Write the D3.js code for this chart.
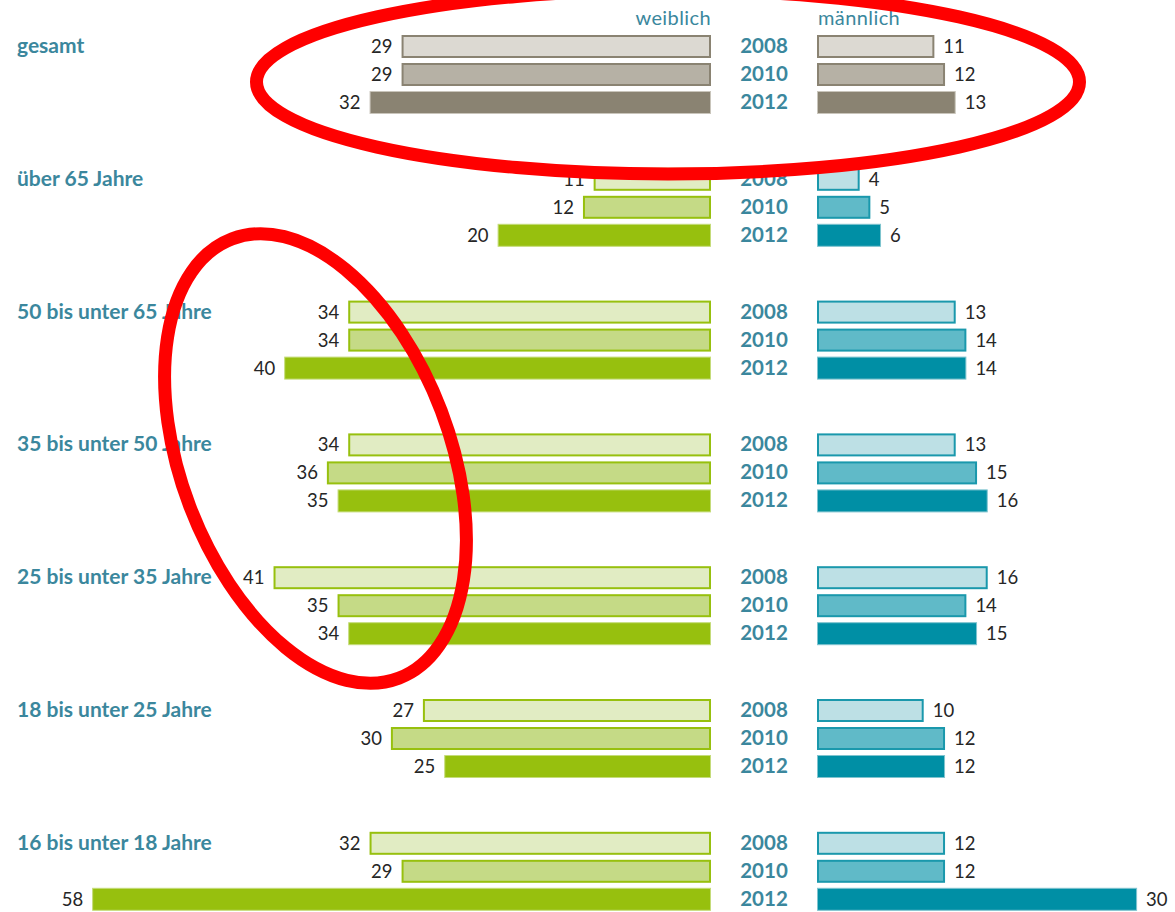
<!DOCTYPE html>
<html>
<head>
<meta charset="utf-8">
<script src="https://cdn.jsdelivr.net/npm/d3@7"></script>
<style>
  html, body { margin: 0; padding: 0; background: #fff; }
  svg { display: block; font-family: Lato, "Open Sans", sans-serif; }
</style>
</head>
<body>
<div id="chart"></div>
<script>
// Altersgruppen (von oben nach unten)
const categories = ["gesamt", "über 65 Jahre", "50 bis unter 65 Jahre", "35 bis unter 50 Jahre",
  "25 bis unter 35 Jahre", "18 bis unter 25 Jahre", "16 bis unter 18 Jahre"];
const years = ["2008", "2010", "2012"];
// Werte je Altersgruppe: [2008, 2010, 2012]
const weiblich = [[29, 29, 32], [11, 12, 20], [34, 34, 40], [34, 36, 35], [41, 35, 34], [27, 30, 25], [32, 29, 58]];
const maennlich = [[11, 12, 13], [4, 5, 6], [13, 14, 14], [13, 15, 16], [16, 14, 15], [10, 12, 12], [12, 12, 30]];

const width = 1175, height = 912;
const unit = 10.67; // px je Prozentpunkt
const zeroF = 711, zeroM = 817;
const teal = "#3b879d";

// Farben: gesamt grau, sonst grün (weiblich) / petrol (männlich)
const grey = { fill: ["#dcd9d2", "#b6b1a5", "#8a8372"], stroke: ["#8a8372", "#8a8372", "#c9c5bb"] };
const green = { fill: ["#e1ecc3", "#c5da86", "#97c00e"], stroke: ["#97c00e", "#97c00e", "#c5dc7a"] };
const blue = { fill: ["#bde0e5", "#60bac8", "#008fa5"], stroke: ["#1a98ac", "#1a98ac", "#7fc4cf"] };

const svg = d3.select("#chart").append("svg")
  .attr("width", width).attr("height", height)
  .attr("viewBox", "0 0 " + width + " " + height);

const xF = d3.scaleLinear().domain([0, 58]).range([zeroF, zeroF - 58 * unit]);
const xM = d3.scaleLinear().domain([0, 30]).range([zeroM, zeroM + 30 * unit]);
const yGroup = d3.scalePoint().domain(categories).range([46.5, 46.5 + 6 * 132.8]);
const yYear = d3.scalePoint().domain(years).range([0, 56]);
const barH = 23;

// Kopfzeile
svg.append("text").attr("x", zeroF).attr("y", 25).attr("text-anchor", "end")
  .attr("fill", teal).attr("font-size", "20px").attr("letter-spacing", "0.4px").text("weiblich");
svg.append("text").attr("x", zeroM + 1).attr("y", 25)
  .attr("fill", teal).attr("font-size", "20px").attr("letter-spacing", "0.4px").text("männlich");

const rows = [];
categories.forEach((c, i) => {
  years.forEach((y, j) => {
    rows.push({ cat: c, gi: i, year: y, yi: j, f: weiblich[i][j], m: maennlich[i][j] });
  });
});

const g = svg.selectAll(".group")
  .data(categories)
  .enter()
  .append("g")
  .attr("class", "group")
  .attr("transform", (d) => "translate(0," + yGroup(d) + ")");

g.append("text")
  .attr("x", 17).attr("y", 6.5)
  .attr("fill", teal).attr("font-size", "21px").attr("font-weight", "bold")
  .text((d) => d);

const row = svg.selectAll(".row")
  .data(rows)
  .enter()
  .append("g")
  .attr("class", "row")
  .attr("transform", (d) => "translate(0," + (yGroup(d.cat) + yYear(d.year)) + ")");

const pal = (d, side) => d.gi === 0 ? grey : (side === "f" ? green : blue);
const sw = (d) => d.yi < 2 ? 2 : 1;

// weiblich
row.append("rect")
  .attr("x", (d) => xF(d.f) + sw(d) / 2)
  .attr("y", (d) => -barH / 2 + sw(d) / 2)
  .attr("width", (d) => zeroF - xF(d.f) - sw(d))
  .attr("height", (d) => barH - sw(d))
  .attr("fill", (d) => pal(d, "f").fill[d.yi])
  .attr("stroke", (d) => pal(d, "f").stroke[d.yi])
  .attr("stroke-width", sw);

// männlich
row.append("rect")
  .attr("x", (d) => zeroM + sw(d) / 2)
  .attr("y", (d) => -barH / 2 + sw(d) / 2)
  .attr("width", (d) => xM(d.m) - zeroM - sw(d))
  .attr("height", (d) => barH - sw(d))
  .attr("fill", (d) => pal(d, "m").fill[d.yi])
  .attr("stroke", (d) => pal(d, "m").stroke[d.yi])
  .attr("stroke-width", sw);

row.append("text")
  .attr("x", (d) => xF(d.f) - 9).attr("y", 6.5)
  .attr("text-anchor", "end").attr("fill", "#262626").attr("font-size", "18.5px")
  .text((d) => d.f);

row.append("text")
  .attr("x", (d) => xM(d.m) + 9).attr("y", 6.5)
  .attr("fill", "#262626").attr("font-size", "18.5px")
  .text((d) => d.m);

row.append("text")
  .attr("x", 764).attr("y", 6.5)
  .attr("text-anchor", "middle").attr("fill", teal)
  .attr("font-size", "20.5px").attr("font-weight", "bold")
  .text((d) => d.year);

// rote Markierungen
svg.append("ellipse")
  .attr("cx", 668).attr("cy", 82).attr("rx", 411.5).attr("ry", 92)
  .attr("fill", "none").attr("stroke", "#ff0000").attr("stroke-width", 13);
svg.append("ellipse")
  .attr("cx", 0).attr("cy", 0).attr("rx", 134.5).attr("ry", 235)
  .attr("transform", "translate(315.5,458.5) rotate(-20.8)")
  .attr("fill", "none").attr("stroke", "#ff0000").attr("stroke-width", 13);
</script>
</body>
</html>
